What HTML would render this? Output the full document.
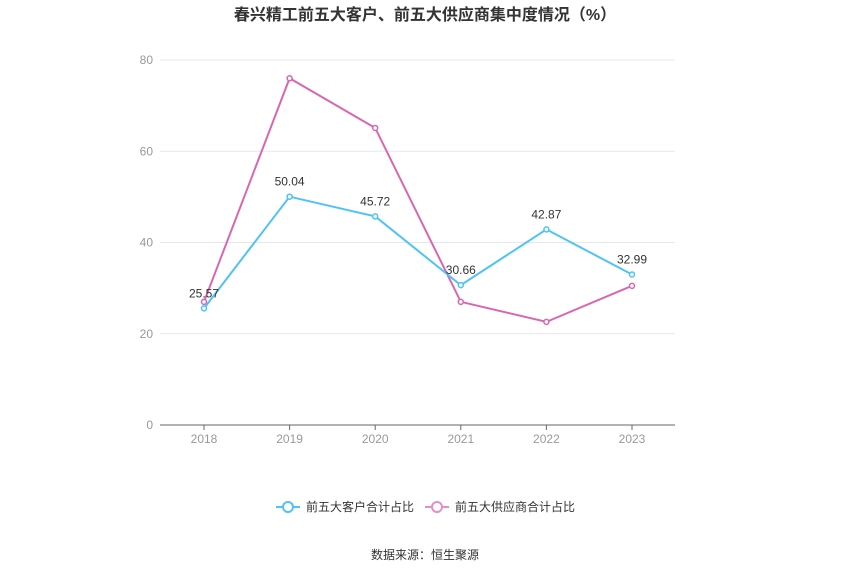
<!DOCTYPE html>
<html><head><meta charset="utf-8"><style>
body{margin:0;background:#fff;font-family:"Liberation Sans","Noto Sans CJK SC",sans-serif;}
</style></head><body>
<svg width="850" height="575" xmlns="http://www.w3.org/2000/svg" font-family="Liberation Sans, Noto Sans CJK SC, sans-serif">
<text x="425" y="20" text-anchor="middle" font-size="16" font-weight="bold" fill="#333">春兴精工前五大客户、前五大供应商集中度情况（%）</text>
<g id="grid"></g><g id="axes"></g><g id="series"></g>
<g>
<g>
<line x1="276" y1="507" x2="300" y2="507" stroke="#4fc3f7" stroke-width="2"/><circle cx="288" cy="507" r="5" fill="#fff" stroke="#4fc3f7" stroke-width="2"/>
<text x="306" y="511" font-size="12" fill="#333">前五大客户合计占比</text></g>
<g>
<line x1="425" y1="507" x2="449" y2="507" stroke="#e48fc6" stroke-width="2"/><circle cx="437" cy="507" r="5" fill="#fff" stroke="#e48fc6" stroke-width="2"/>
<text x="455" y="511" font-size="12" fill="#333">前五大供应商合计占比</text></g>
</g>
<text x="425" y="559" text-anchor="middle" font-size="12" fill="#333">数据来源：恒生聚源</text>
</svg>
<script>
const categories=["2018","2019","2020","2021","2022","2023"];
const customers=[25.57,50.04,45.72,30.66,42.87,32.99];
const suppliers=[27.0,76.0,65.1,27.0,22.6,30.5];
const yTicks=[0,20,40,60,80];
const NS="http://www.w3.org/2000/svg";
const x=i=>204+i*85.6;
const y=v=>425-v*4.5625;
function mk(t,a,p){const e=document.createElementNS(NS,t);for(const k in a)e.setAttribute(k,a[k]);p.appendChild(e);return e;}
const grid=document.getElementById('grid'),axes=document.getElementById('axes'),ser=document.getElementById('series');
yTicks.forEach(v=>{
 if(v>0){const l=mk('line',{x1:160,x2:675,y1:y(v),y2:y(v),stroke:'#e3e8f0'},grid);
 
 }
 const t=mk('text',{x:153,y:y(v)+4,'text-anchor':'end','font-size':12,fill:'#999'},axes);t.textContent=v;
 
 
});
const ax=mk('line',{x1:160,x2:675,y1:425,y2:425,stroke:'#666'},axes);


categories.forEach((c,i)=>{
 mk('line',{x1:x(i),x2:x(i),y1:425,y2:430,stroke:'#666'},axes);
 const t=mk('text',{x:x(i),y:443,'text-anchor':'middle','font-size':12,fill:'#999'},axes);t.textContent=c;
 
 
});
function draw(vals,color,name,labels){
 const p=mk('polyline',{points:vals.map((v,i)=>x(i)+','+y(v)).join(' '),fill:'none',stroke:color,'stroke-width':2},ser);
 
 
 vals.forEach((v,i)=>{
  const c=mk('circle',{cx:x(i),cy:y(v),r:2.5,fill:'#fff',stroke:color,'stroke-width':1.5},ser);
  
  
  if(labels){const t=mk('text',{x:x(i),y:y(v)-11,'text-anchor':'middle','font-size':12,fill:'#333'},ser);t.textContent=v.toFixed(2);
  
  }
 });
}
draw(suppliers,'#d966b0','suppliers',false);
draw(customers,'#4fc3f7','customers',true);
</script>
</body></html>
